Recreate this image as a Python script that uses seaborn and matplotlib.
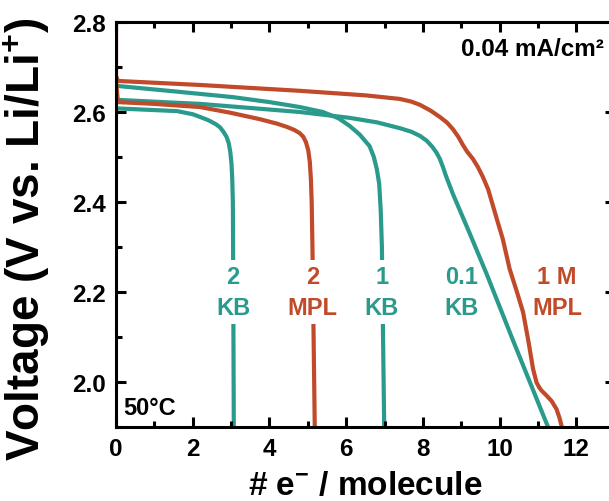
import numpy as np
import pandas as pd
import matplotlib
matplotlib.use("Agg")
import matplotlib.pyplot as plt
import seaborn as sns

# discharge curves (x = e- per molecule, y = V vs Li/Li+)
mpl_1m_x = [0, 0, 0.05, 2.2, 4.8, 6.5, 7.4, 7.7, 7.92, 8.2, 8.44, 8.62, 8.78, 8.92, 9.04, 9.15,
            9.30, 9.43, 9.56, 9.70, 9.82, 9.95, 10.08, 10.26, 10.45, 10.61, 10.75, 10.87, 10.96,
            11.03, 11.09, 11.22, 11.35, 11.48, 11.56, 11.62]
mpl_1m_y = [2.80, 2.68, 2.669, 2.660, 2.647, 2.637, 2.629, 2.623, 2.616, 2.603, 2.589, 2.577, 2.562,
            2.545, 2.527, 2.512, 2.496, 2.478, 2.456, 2.428, 2.393, 2.355, 2.318, 2.251, 2.200,
            2.155, 2.090, 2.029, 1.999, 1.988, 1.981, 1.970, 1.958, 1.940, 1.920, 1.90]

kb_01_x = [0.02, 2.19, 4.79, 6.09, 6.8, 7.40, 7.7, 7.92, 8.1, 8.25, 8.35, 8.44, 8.52, 8.60,
           8.78, 9.22, 9.66, 10.34, 11.26]
kb_01_y = [2.627, 2.618, 2.600, 2.587, 2.577, 2.564, 2.556, 2.547, 2.536, 2.522, 2.510, 2.496,
           2.478, 2.458, 2.418, 2.330, 2.240, 2.094, 1.90]

kb_1_x = [0.02, 1.5, 3.05, 4.0, 4.79, 5.39, 5.8, 6.09, 6.35, 6.61, 6.72, 6.80, 6.86, 6.90,
          6.93, 6.99]
kb_1_y = [2.658, 2.646, 2.633, 2.622, 2.611, 2.600, 2.586, 2.569, 2.550, 2.524, 2.500, 2.472,
          2.440, 2.380, 2.300, 1.90]

mpl_2_x = [0, 0.05, 1.0, 2.19, 3.0, 3.75, 4.2, 4.45, 4.65, 4.79, 4.88, 4.95, 5.01, 5.05,
           5.08, 5.10, 5.12, 5.18]
mpl_2_y = [2.67, 2.622, 2.618, 2.611, 2.598, 2.584, 2.574, 2.567, 2.560, 2.553, 2.545, 2.533,
           2.515, 2.490, 2.450, 2.400, 2.300, 1.90]

kb_2_x = [0.02, 1.59, 2.0, 2.19, 2.4, 2.6, 2.71, 2.8, 2.88, 2.94, 2.98, 3.01, 3.03, 3.045,
          3.05, 3.07]
kb_2_y = [2.608, 2.602, 2.595, 2.589, 2.582, 2.573, 2.566, 2.556, 2.545, 2.530, 2.510, 2.485,
          2.450, 2.400, 2.333, 1.90]

labels = ["2\nKB", "2\nMPL", "1\nKB", "0.1\nKB", "1 M\nMPL"]
label_x = [3.05, 5.13, 6.93, 9.0, 11.5]

teal = "#2a9a8c"
red = "#c04a2a"

sns.set_theme(style="ticks", rc={
    'xtick.direction': 'in', 'ytick.direction': 'in',
    'xtick.top': True, 'ytick.right': True,
    'xtick.major.size': 7, 'ytick.major.size': 7,
    'xtick.minor.size': 4.5, 'ytick.minor.size': 4.5,
    'xtick.major.width': 2.2, 'ytick.major.width': 2.2,
    'xtick.minor.width': 2.2, 'ytick.minor.width': 2.2,
    'xtick.color': 'black', 'ytick.color': 'black',
    'axes.axisbelow': False,
})
plt.rcParams['font.family'] = ['Liberation Sans', 'DejaVu Sans']
plt.rcParams['font.weight'] = 'bold'
plt.rcParams['text.color'] = 'black'
plt.rcParams['axes.labelcolor'] = 'black'
plt.rcParams['mathtext.fontset'] = 'custom'
plt.rcParams['mathtext.rm'] = 'Liberation Sans:bold'
plt.rcParams['mathtext.bf'] = 'Liberation Sans:bold'
plt.rcParams['mathtext.it'] = 'Liberation Sans:bold'

fig = plt.figure(figsize=(6.09, 5.02), dpi=100)
ax = fig.add_axes([0.1905, 0.1474, 0.819, 0.8068])

curves = [(mpl_1m_x, mpl_1m_y, red), (kb_01_x, kb_01_y, teal), (kb_1_x, kb_1_y, teal),
          (mpl_2_x, mpl_2_y, red), (kb_2_x, kb_2_y, teal)]
for xs, ys, c in curves:
    sns.lineplot(x=xs, y=ys, sort=False, estimator=None, color=c, linewidth=3, ax=ax)

ax.set_xlim(0, 13)
ax.set_ylim(1.9, 2.8)
ax.set_xticks([0, 2, 4, 6, 8, 10, 12])
ax.set_xticks([1, 3, 5, 7, 9, 11], minor=True)
ax.set_yticks([2.0, 2.2, 2.4, 2.6, 2.8])
ax.set_yticks([1.9, 2.1, 2.3, 2.5, 2.7], minor=True)
ax.set_yticklabels(['2.0', '2.2', '2.4', '2.6', '2.8'])

# inward ticks on all four sides
ax.tick_params(which='both', direction='in', top=True, right=True, bottom=True, left=True,
               width=2.2, color='black')
ax.tick_params(which='major', length=7, labelcolor='black', labelsize=17.5, pad=7)
ax.tick_params(which='minor', length=4.5)
ax.xaxis.set_zorder(4)
ax.yaxis.set_zorder(4)

for sp in ax.spines.values():
    sp.set_linewidth(2.2)
    sp.set_color('black')

label_colors = [teal, red, teal, teal, red]
for i, (txt, lx, c) in enumerate(zip(labels, label_x, label_colors)):
    box = dict(facecolor='white', edgecolor='none', pad=4) if i < 3 else None
    ax.text(lx, 2.20, txt, color=c, fontsize=17, fontweight='bold', ha='center', va='center',
            linespacing=1.4, bbox=box, zorder=5)

ax.text(12.71, 2.74, "0.04 mA/cm²", fontsize=17.5, fontweight='bold', ha='right', va='center')
ax.text(0.18, 1.944, "50°C", fontsize=17, fontweight='bold', ha='left', va='center')

ax.set_xlabel(r"# e$^{-}$ / molecule", fontsize=24, fontweight='bold')
ax.set_ylabel(r"Voltage (V vs. Li/Li$^{+}$)", fontsize=33, fontweight='bold')
ax.xaxis.set_label_coords(0.5, -0.105)
ax.yaxis.set_label_coords(-0.128, 0.465)

# make sure every tick mark is switched on
for axis in (ax.xaxis, ax.yaxis):
    for t in axis.get_major_ticks() + axis.get_minor_ticks():
        t.tick1line.set_visible(True)
        t.tick2line.set_visible(True)
        t.tick1line.set_color('black')
        t.tick2line.set_color('black')

fig.savefig("out.png", dpi=100)
